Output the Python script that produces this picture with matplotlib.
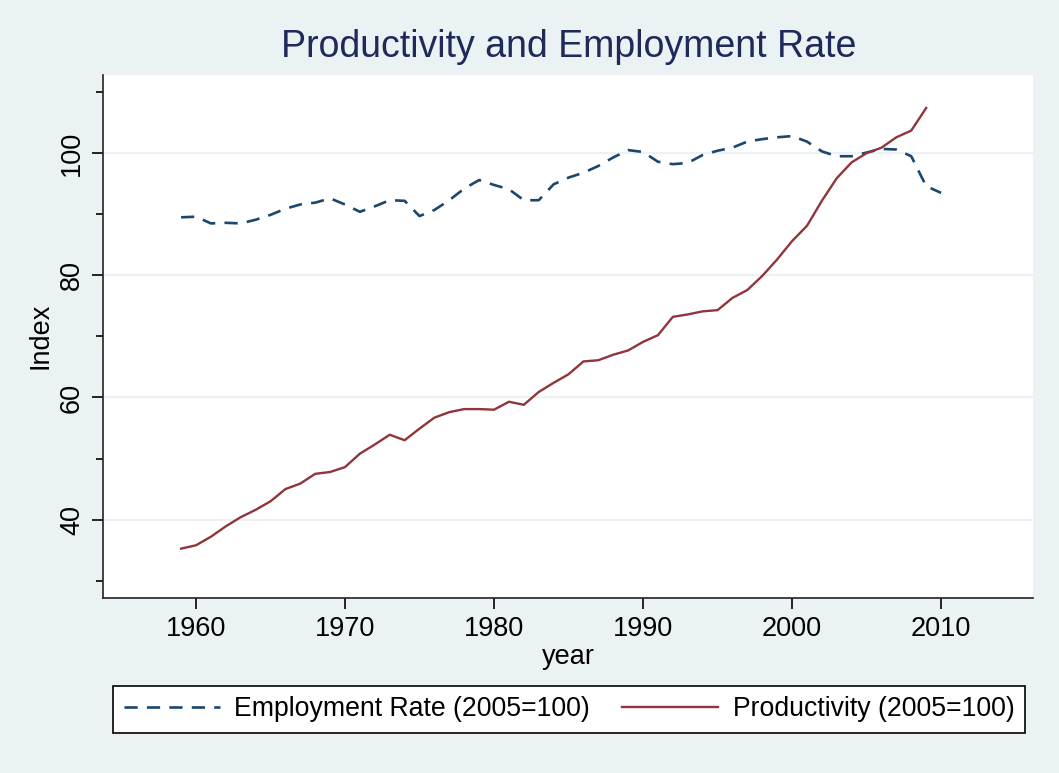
import matplotlib
matplotlib.use("Agg")
import matplotlib.pyplot as plt
import numpy as np

plt.rcParams['font.family'] = ['Liberation Sans', 'DejaVu Sans']

# datos
years_emp = list(range(1959, 2011))
employment = [89.5, 89.6, 88.5, 88.6, 88.5, 89.1, 89.9, 90.9, 91.6, 91.9,
              92.6, 91.6, 90.4, 91.3, 92.3, 92.2, 89.7, 90.7, 92.3, 94.2,
              95.6, 94.8, 94.1, 92.3, 92.3, 94.9, 96.0, 96.8, 97.9, 99.3,
              100.5, 100.2, 98.6, 98.2, 98.4, 99.7, 100.4, 100.9, 101.9, 102.3,
              102.6, 102.8, 101.9, 100.3, 99.5, 99.5, 100.1, 100.7, 100.6, 99.5,
              94.6, 93.5]

years_prod = list(range(1959, 2010))
productivity = [35.25, 35.8, 37.2, 38.9, 40.4, 41.6, 43.0, 45.0, 45.9, 47.5,
                47.8, 48.6, 50.8, 52.3, 53.9, 53.0, 54.9, 56.7, 57.6, 58.1,
                58.1, 58.0, 59.3, 58.8, 60.9, 62.4, 63.8, 65.9, 66.1, 67.0,
                67.7, 69.1, 70.2, 73.2, 73.6, 74.1, 74.3, 76.3, 77.6, 79.9,
                82.6, 85.6, 88.1, 92.2, 95.9, 98.5, 100.0, 100.9, 102.6, 103.7,
                107.4]

xticks = [1960, 1970, 1980, 1990, 2000, 2010]
yticks = [40, 60, 80, 100]
yminor = [30, 50, 70, 90, 110]

bg = '#EAF2F3'
navy = '#1A476F'
maroon = '#90353B'

fig = plt.figure(figsize=(10.59, 7.73), dpi=100, facecolor=bg)
ax = fig.add_axes([103/1059, 1-597.5/773, (1033-103)/1059, (597.5-75)/773])
ax.set_facecolor('white')

ax.plot(years_emp, employment, color=navy, lw=1.9, dashes=(5, 3.5),
        label='Employment Rate (2005=100)')
ax.plot(years_prod, productivity, color=maroon, lw=1.7,
        label='Productivity (2005=100)')

ax.set_xlim(1953.76, 2016.17)
ax.set_ylim(27.25, 112.8)

ax.set_xticks(xticks)
ax.set_yticks(yticks)
ax.set_yticks(yminor, minor=True)
ax.tick_params(axis='both', which='major', length=8, width=1.2, labelsize=19.5, pad=5)
ax.tick_params(axis='y', which='minor', length=5, width=1.2)
for lab in ax.get_yticklabels():
    lab.set_rotation(90)
    lab.set_va('center')

ax.grid(axis='y', which='major', color=bg, lw=1.5)
ax.set_axisbelow(True)

for sp in ['top', 'right']:
    ax.spines[sp].set_visible(False)
for sp in ['left', 'bottom']:
    ax.spines[sp].set_linewidth(1.2)
    ax.spines[sp].set_color('#222222')

ax.set_xlabel('year', fontsize=19.5, labelpad=2)
ax.set_ylabel('Index', fontsize=19.5, labelpad=4)

fig.text(569/1059, 1-47/773, 'Productivity and Employment Rate', ha='center', va='center',
         fontsize=27, color='#1E2A5A')

leg = fig.legend(loc='center', bbox_to_anchor=(569/1059, 1-709.5/773), ncol=2,
                 fontsize=19.2, frameon=True, fancybox=False, edgecolor='black',
                 facecolor='white', framealpha=1,
                 handlelength=3.6, handletextpad=0.55, columnspacing=1.2,
                 borderpad=0.4)
leg.get_frame().set_linewidth(1.2)

fig.savefig('out.png', dpi=100, facecolor=bg)
